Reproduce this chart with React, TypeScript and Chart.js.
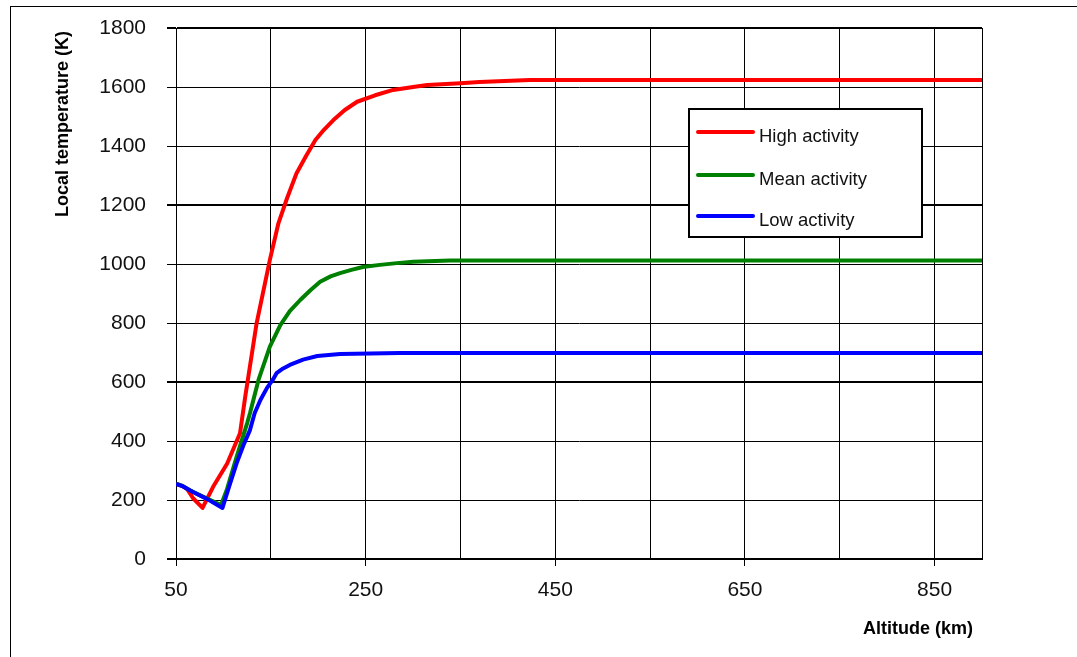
import React, { useEffect, useRef } from "react";
import { Chart, registerables } from "chart.js";

Chart.register(...registerables);

// Thermosphere temperature profiles versus altitude for three levels of solar activity
const highAlt = [50, 57, 62, 68, 78, 89, 104, 117.5, 123, 126, 135, 149, 158, 167, 177, 187, 197, 206, 216, 228, 241, 260, 279, 300, 315, 350, 370, 423, 900];
const highTemp = [255, 247, 236, 206, 173, 244, 324, 426, 550, 612, 799, 1014, 1138, 1222, 1307, 1365, 1420, 1455, 1488, 1522, 1550, 1572, 1590, 1600, 1607, 1613, 1617, 1624, 1624];

const meanAlt = [50, 57, 65, 76, 84, 97.5, 103.5, 114, 125, 128, 137, 149, 160, 170, 181, 192, 202, 213, 223, 235, 247, 265, 283, 300, 339, 900];
const meanTemp = [255, 248, 232, 215, 203, 183, 234, 347, 460, 494, 607, 720, 793, 840, 878, 912, 940, 958, 969, 980, 990, 997, 1003, 1008, 1012, 1012];

const lowAlt = [50, 56, 68, 83, 99, 106, 114, 121, 128, 133, 139, 146, 152, 156, 163, 170, 184, 199, 223, 286, 900];
const lowTemp = [255, 248, 227, 203, 173, 245, 325, 385, 437, 495, 539, 580, 607, 630, 646, 658, 676, 688, 695, 698, 698];

const seriesLabels = ["High activity", "Mean activity", "Low activity"];
const seriesColors = ["#ff0000", "#008000", "#0000ff"];

const xGridValues = [50, 150, 250, 350, 450, 550, 650, 750, 850, 900];
const xLabelValues = [50, 250, 450, 650, 850];

const xTitle = "Altitude (km)";
const yTitle = "Local temperature (K)";

const FONT = '"Liberation Sans", Arial, sans-serif';

const toPoints = (xs: number[], ys: number[]) => xs.map((x, i) => ({ x, y: ys[i] }));

// Outer frame around the figure
const framePlugin = {
  id: "frame",
  beforeDraw(chart: any) {
    const { ctx } = chart;
    ctx.save();
    ctx.fillStyle = "#ffffff";
    ctx.fillRect(0, 0, chart.width, chart.height);
    ctx.strokeStyle = "#000";
    ctx.lineWidth = 1;
    ctx.strokeRect(10.5, 6.5, chart.width + 50, chart.height + 50);
    ctx.restore();
  },
};

// Axis titles
const titlesPlugin = {
  id: "axisTitles",
  afterDraw(chart: any) {
    const { ctx } = chart;
    ctx.save();
    ctx.fillStyle = "#000";
    ctx.font = `bold 18px ${FONT}`;
    ctx.textAlign = "left";
    ctx.textBaseline = "alphabetic";
    ctx.fillText(xTitle, 863, 634);
    ctx.translate(68, 217);
    ctx.rotate(-Math.PI / 2);
    ctx.fillText(yTitle, 0, 0);
    ctx.restore();
  },
};

// Boxed legend inside the plot area
const boxLegendPlugin = {
  id: "boxLegend",
  afterDatasetsDraw(chart: any) {
    const { ctx } = chart;
    const left = 689;
    const top = 109;
    const w = 233;
    const h = 128;
    ctx.save();
    ctx.fillStyle = "#fff";
    ctx.fillRect(left, top, w, h);
    ctx.strokeStyle = "#000";
    ctx.lineWidth = 2;
    ctx.strokeRect(left, top, w, h);
    const rows = [132, 175, 216];
    ctx.font = `18.5px ${FONT}`;
    ctx.textAlign = "left";
    ctx.textBaseline = "alphabetic";
    seriesLabels.forEach((label, i) => {
      const y = rows[i];
      ctx.strokeStyle = seriesColors[i];
      ctx.lineWidth = 4;
      ctx.lineCap = "round";
      ctx.beginPath();
      ctx.moveTo(698, y);
      ctx.lineTo(753, y);
      ctx.stroke();
      ctx.fillStyle = "#111";
      ctx.fillText(label, 759, y + 9.5);
    });
    ctx.restore();
  },
};

export default function App() {
  const canvasRef = useRef<HTMLCanvasElement | null>(null);

  useEffect(() => {
    const canvas = canvasRef.current;
    if (!canvas) return;
    const data = [toPoints(highAlt, highTemp), toPoints(meanAlt, meanTemp), toPoints(lowAlt, lowTemp)];
    const chart = new Chart(canvas, {
      type: "line",
      data: {
        datasets: data.map((pts, i) => ({
          label: seriesLabels[i],
          data: pts,
          borderColor: seriesColors[i],
          backgroundColor: seriesColors[i],
          borderWidth: 4,
          pointRadius: 0,
          tension: 0,
          fill: false,
          order: 3 - i,
          borderJoinStyle: "round" as const,
        })),
      },
      options: {
        responsive: false,
        animation: false,
        events: [],
        layout: { padding: { left: 0, right: 95, top: 28, bottom: 0 } },
        plugins: {
          legend: { display: false },
          tooltip: { enabled: false },
          title: { display: false },
        },
        scales: {
          x: {
            type: "linear",
            min: 50,
            max: 900,
            afterBuildTicks: (scale: any) => {
              scale.ticks = xGridValues.map((v) => ({ value: v }));
            },
            afterFit: (scale: any) => {
              scale.height = 98;
              scale.paddingLeft = 0;
              scale.paddingRight = 0;
            },
            ticks: {
              autoSkip: false,
              maxRotation: 0,
              padding: 12,
              color: "#111",
              font: { family: FONT, size: 21 },
              callback: (v: any) => (xLabelValues.includes(Number(v)) ? String(v) : ""),
            },
            grid: {
              color: "#000",
              lineWidth: 1,
              tickLength: 7,
              tickColor: (ctx: any) =>
                ctx.tick && xLabelValues.includes(ctx.tick.value) ? "#000" : "rgba(0,0,0,0)",
            },
            border: { display: true, color: "#000", width: 2 },
          },
          y: {
            type: "linear",
            min: 0,
            max: 1800,
            afterFit: (scale: any) => {
              scale.width = 176;
              scale.paddingTop = 0;
              scale.paddingBottom = 0;
            },
            ticks: {
              stepSize: 200,
              padding: 21,
              color: "#111",
              font: { family: FONT, size: 21 },
              callback: (v: any) => String(v),
            },
            grid: {
              color: "#000",
              lineWidth: (ctx: any) => (ctx.tick && ctx.tick.value % 600 === 0 ? 2 : 1),
              tickLength: 9,
            },
            border: { display: true, color: "#000", width: 1 },
          },
        },
      },
      plugins: [framePlugin, titlesPlugin, boxLegendPlugin],
    } as any);
    return () => chart.destroy();
  }, []);

  return (
    <div style={{ position: "absolute", left: 0, top: 0, width: 1077, height: 657 }}>
      <canvas ref={canvasRef} width={1077} height={657} style={{ display: "block" }} />
    </div>
  );
}
